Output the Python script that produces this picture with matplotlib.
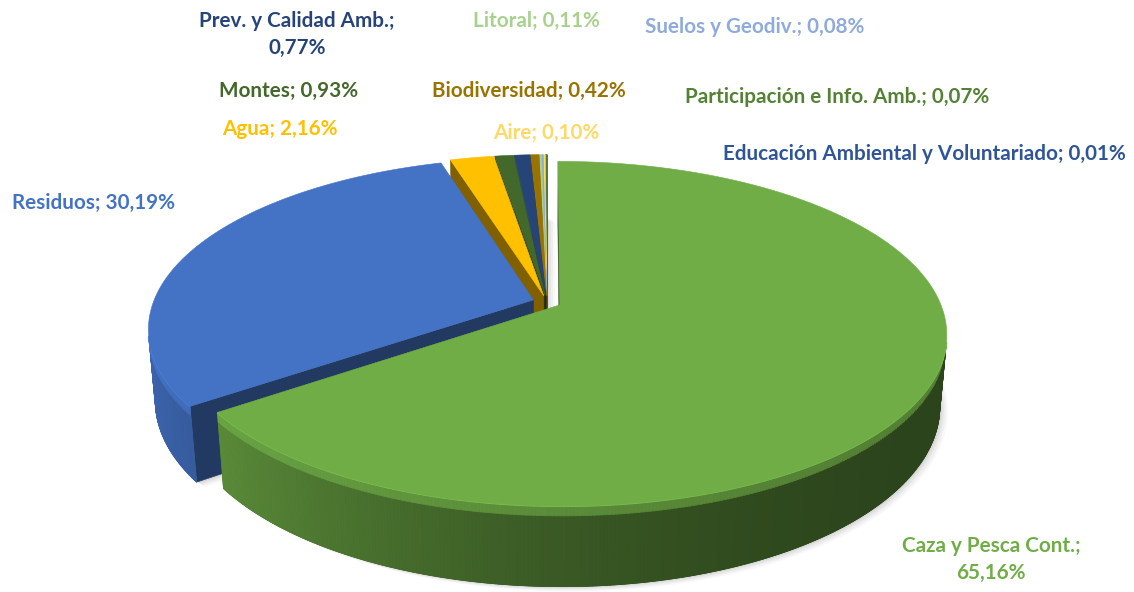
import numpy as np
import matplotlib.pyplot as plt
from matplotlib.patches import Polygon
from matplotlib.colors import to_rgb

# --- data (percent of budget, clockwise from 12 o'clock) ---
names = ["Caza y Pesca Cont.", "Residuos", "Agua", "Montes", "Prev. y Calidad Amb.",
         "Biodiversidad", "Litoral", "Suelos y Geodiv.", "Aire",
         "Participación e Info. Amb.", "Educación Ambiental y Voluntariado"]
values = [65.16, 30.19, 2.16, 0.93, 0.77, 0.42, 0.11, 0.08, 0.10, 0.07, 0.01]
colors = ["#70AD47", "#4472C4", "#FFC000", "#43682B", "#264478", "#997300",
          "#A9D18E", "#8FAADC", "#FFD966", "#548235", "#2F5597"]

# --- label layout (pixel x centre, baseline y, line break after ';') ---
label_x = [991, 93, 280, 289, 297, 529, 536, 755, 546, 837, 924]
label_y = [552, 209, 135, 97, 27, 97, 27, 33, 139, 103, 160]
label_wrap = [True, False, False, False, True, False, False, False, False, False, False]

# --- 3d view of the pie (pie radius = 1) ---
CX, CY = 547, 302
ELEV = np.deg2rad(26)
DIST = 5.39
FOCAL = 2048
HEIGHT = 0.21
BAND = 0.025
EXPLODE = 0.038
CAM = np.array([0.0, -DIST * np.cos(ELEV), DIST * np.sin(ELEV)])


def project(X, Y, Z):
    xc = X
    yc = Y * np.sin(ELEV) + Z * np.cos(ELEV)
    depth = DIST + Y * np.cos(ELEV) - Z * np.sin(ELEV)
    return CX + FOCAL * xc / depth, CY - FOCAL * yc / depth


def shade(c, f):
    return tuple(np.clip(np.array(to_rgb(c)) * f, 0, 1))


def wall_factor(t):
    return 0.39 + 0.5 * ((1 + np.cos(t - np.pi)) / 2) ** 2


def visible(p, n):
    return np.dot(CAM - p, n) > 0


fig = plt.figure(figsize=(11.34, 5.92), dpi=100)
ax = fig.add_axes([0, 0, 1, 1])
ax.set_xlim(0, 1134)
ax.set_ylim(592, 0)
ax.axis("off")


def add_poly(pts, color, z, lw=0.0, **kw):
    ax.add_patch(Polygon(pts, closed=True, facecolor=color, edgecolor=color,
                         linewidth=lw, zorder=z, **kw))


# slice angles (clockwise from 90 deg)
cum = np.concatenate([[0], np.cumsum(values)]) / sum(values)
slices = []
for i, c in enumerate(colors):
    a1 = np.pi / 2 - 2 * np.pi * cum[i]      # start (larger angle)
    a2 = np.pi / 2 - 2 * np.pi * cum[i + 1]  # end
    mid = (a1 + a2) / 2
    off = EXPLODE * np.array([np.cos(mid), np.sin(mid)])
    slices.append((np.sin(mid), i, a1, a2, off))

# far slices first
slices.sort(key=lambda s: -s[0])

# soft drop shadow under the bottom of every slice
for _, i, a1, a2, off in slices:
    t = np.linspace(a2, a1, max(3, int(abs(a1 - a2) * 120)))
    X = np.concatenate([[off[0]], off[0] + np.cos(t)])
    Y = np.concatenate([[off[1]], off[1] + np.sin(t)])
    sx, sy = project(X, Y, np.full_like(X, -HEIGHT))
    for d, a in [(8, 0.05), (6, 0.07), (4, 0.09), (2, 0.12)]:
        add_poly(np.column_stack([sx + d, sy + d * 0.6]), "#808080", 0, alpha=a)

z = 1
for _, i, a1, a2, off in slices:
    c = colors[i]
    n = max(3, int(abs(a1 - a2) * 120))
    t = np.linspace(a2, a1, n)
    rx = off[0] + np.cos(t)
    ry = off[1] + np.sin(t)

    # cut faces
    for a, nrm in [(a1, np.array([-np.sin(a1), np.cos(a1), 0])),
                   (a2, np.array([np.sin(a2), -np.cos(a2), 0]))]:
        p = np.array([off[0] + 0.5 * np.cos(a), off[1] + 0.5 * np.sin(a), -HEIGHT / 2])
        if visible(p, nrm):
            X = [off[0], off[0] + np.cos(a), off[0] + np.cos(a), off[0]]
            Y = [off[1], off[1] + np.sin(a), off[1] + np.sin(a), off[1]]
            Z = [0, 0, -HEIGHT, -HEIGHT]
            sx, sy = project(np.array(X), np.array(Y), np.array(Z))
            add_poly(np.column_stack([sx, sy]), shade(c, 0.5), z, lw=0.4)
            z += 1

    # outer wall: visible strips
    vis = []
    for k in range(n - 1):
        tm = (t[k] + t[k + 1]) / 2
        nrm = np.array([np.cos(tm), np.sin(tm), 0])
        p = np.array([off[0] + np.cos(tm), off[1] + np.sin(tm), -HEIGHT / 2])
        vis.append(visible(p, nrm))
    vis = np.array(vis)
    if vis.any():
        idx = np.where(vis)[0]
        k0, k1 = idx[0], idx[-1] + 1
        tt = t[k0:k1 + 1]
        wx = off[0] + np.cos(tt)
        wy = off[1] + np.sin(tt)
        # silhouette underlay hides seams between strips
        X = np.concatenate([wx, wx[::-1]])
        Y = np.concatenate([wy, wy[::-1]])
        Z = np.concatenate([np.zeros_like(wx), np.full_like(wx, -HEIGHT)])
        sx, sy = project(X, Y, Z)
        add_poly(np.column_stack([sx, sy]), shade(c, wall_factor(tt.mean())), z, lw=0.5)
        z += 1
        for k in idx:
            tm = (t[k] + t[k + 1]) / 2
            X = np.array([rx[k], rx[k + 1], rx[k + 1], rx[k]])
            Y = np.array([ry[k], ry[k + 1], ry[k + 1], ry[k]])
            f = wall_factor(tm)
            sx, sy = project(X, Y, np.array([-BAND, -BAND, -HEIGHT, -HEIGHT]))
            add_poly(np.column_stack([sx, sy]), shade(c, f), z, lw=0.6)
            sx, sy = project(X, Y, np.array([0, 0, -BAND, -BAND]))
            add_poly(np.column_stack([sx, sy]), shade(c, (1.1 + f) / 2), z, lw=0.6)
        # bevel highlight along the top rim
        sx, sy = project(wx, wy, np.zeros_like(wx))
        ax.plot(sx, sy, color=shade(c, 1.12), lw=1.4, zorder=z + 1,
                solid_capstyle="butt")
        z += 2

    # top face
    X = np.concatenate([[off[0]], rx])
    Y = np.concatenate([[off[1]], ry])
    sx, sy = project(X, Y, np.zeros_like(X))
    add_poly(np.column_stack([sx, sy]), c, z, lw=0.4)
    z += 1

# labels
for i, name in enumerate(names):
    pct = f"{values[i]:.2f}%".replace(".", ",")
    kw = dict(ha="center", va="baseline", color=colors[i], fontsize=14.9,
              fontweight="bold", family="Lato", zorder=500)
    if label_wrap[i]:
        ax.text(label_x[i], label_y[i], name + ";", **kw)
        ax.text(label_x[i], label_y[i] + 27, pct, **kw)
    else:
        ax.text(label_x[i], label_y[i], f"{name}; {pct}", **kw)

fig.savefig("out.png", dpi=100)
